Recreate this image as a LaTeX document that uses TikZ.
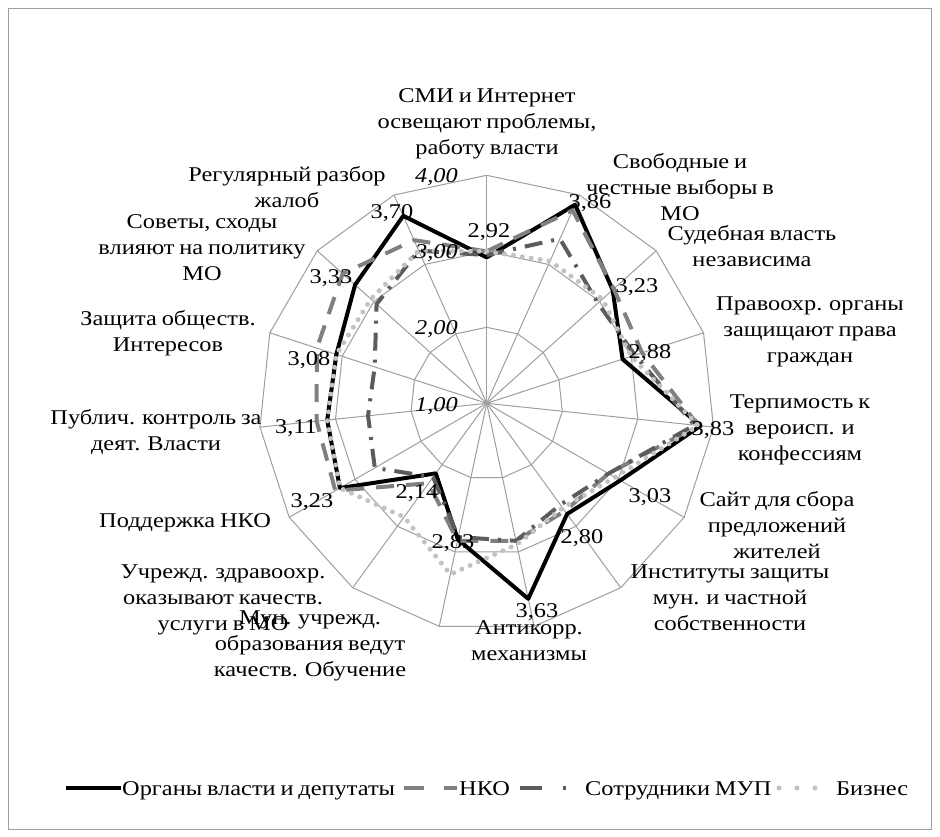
\documentclass[tikz,border=0pt]{standalone}
\usepackage{fontspec}
\setmainfont{Liberation Serif}[FakeStretch=1.16,WordSpace=0.8]
\definecolor{gridc}{gray}{0.62}
\definecolor{nkoc}{gray}{0.50}
\definecolor{mupc}{gray}{0.36}
\definecolor{bizc}{gray}{0.76}
\begin{document}
\begin{tikzpicture}[x=1pt,y=-1pt,
  font=\fontsize{21}{26}\selectfont,
  gridline/.style={draw=gridc,line width=1pt},
  cat/.style={align=center,inner sep=0pt},
  dlab/.style={inner sep=0pt},
  alab/.style={inner sep=0pt,anchor=east,font=\fontsize{21}{24}\selectfont\itshape},
  organy/.style={draw=black,line width=4pt,line join=round},
  nko/.style={draw=nkoc,line width=4pt,dash pattern=on 18pt off 12pt},
  mup/.style={draw=mupc,line width=4pt,dash pattern=on 18pt off 9pt on 3pt off 9pt},
  biz/.style={draw=bizc,line width=5pt,line cap=round,dash pattern=on 0pt off 9pt},
  legtext/.style={inner sep=0pt,anchor=base west}]
\def\cx{486.7}
\def\cy{403.3}
\useasboundingbox (0,0) rectangle (940,836);
\draw[draw=gridc,line width=1pt] (8,8) rectangle (931,829);
% grid rings
\foreach \r in {76,152,228}{
  \draw[gridline] ({\cx},{\cy-\r}) \foreach \a in {24,48,...,336}{ -- ({\cx+\r*sin(\a)},{\cy-\r*cos(\a)}) } -- cycle;
}
% spokes
\foreach \a in {0,24,...,336}{
  \draw[gridline] (\cx,\cy) -- ({\cx+228*sin(\a)},{\cy-228*cos(\a)});
}
% series coordinates
\newcommand\mkseries[2]{%
  \foreach \v [count=\i from 0] in {#2}{
    \coordinate (#1-\i) at ({\cx+(\v-1)*76*sin(24*\i)},{\cy-(\v-1)*76*cos(24*\i)});
  }}
\mkseries{o}{2.92,3.86,3.23,2.88,3.83,3.03,2.80,3.63,2.83,2.14,3.23,3.11,3.08,3.33,3.70}
\mkseries{n}{3.00,3.78,3.25,3.15,3.80,2.85,2.75,2.85,2.85,2.30,3.30,3.25,3.35,3.55,3.35}
\mkseries{m}{2.95,3.37,2.97,3.05,3.75,2.85,2.65,2.85,2.80,2.20,2.70,2.57,2.55,2.95,3.20}
\mkseries{b}{3.00,3.05,3.05,3.00,3.80,2.95,2.70,2.90,3.30,2.85,3.23,3.11,3.08,3.05,3.20}
\draw[organy] (o-0) \foreach \i in {1,...,14}{ -- (o-\i) } -- cycle;
\draw[nko] (n-0) \foreach \i in {1,...,14}{ -- (n-\i) } -- cycle;
\draw[mup] (m-0) \foreach \i in {1,...,14}{ -- (m-\i) } -- cycle;
\draw[biz] (b-0) \foreach \i in {1,...,14}{ -- (b-\i) } -- cycle;
% axis value labels
\node[alab] (a1) at (458,406) {1,00};
\node[alab] (a2) at (458,329) {2,00};
\node[alab] (a3) at (458,253) {3,00};
\node[alab] (a4) at (458,177) {4,00};
% data labels
\node[dlab] (d0) at (489,232) {2,92};
\node[dlab] (d1) at (590,203) {3,86};
\node[dlab] (d2) at (637,287) {3,23};
\node[dlab] (d3) at (650,353) {2,88};
\node[dlab] (d4) at (713,430) {3,83};
\node[dlab] (d5) at (650,497) {3,03};
\node[dlab] (d6) at (582,538) {2,80};
\node[dlab] (d7) at (537,612) {3,63};
\node[dlab] (d8) at (453,543) {2,83};
\node[dlab] (d9) at (417,493) {2,14};
\node[dlab] (d10) at (312,502) {3,23};
\node[dlab] (d11) at (296,428) {3,11};
\node[dlab] (d12) at (309,360) {3,08};
\node[dlab] (d13) at (331,278) {3,33};
\node[dlab] (d14) at (392,213) {3,70};
% category labels
\node[cat] (c0) at (487,124) {СМИ и Интернет\\освещают проблемы,\\работу власти};
\node[cat] (c1) at (680,187) {Свободные и\\честные выборы в\\МО};
\node[cat] (c2) at (752,246) {Судебная власть\\независима};
\node[cat] (c3) at (810,332) {Правоохр. органы\\защищают права\\граждан};
\node[cat] (c4) at (800,430) {Терпимость к\\вероисп. и\\конфессиям};
\node[cat] (c5) at (777,525) {Сайт для сбора\\предложений\\жителей};
\node[cat] (c6) at (730,598) {Институты защиты\\мун. и частной\\собственности};
\node[cat] (c7) at (529,641) {Антикорр.\\механизмы};
\node[cat] (c8) at (310,646) {Мун. учрежд.\\образования ведут\\качеств. Обучение};
\node[cat] (c9) at (223,600) {Учрежд. здравоохр.\\оказывают качеств.\\услуги в МО};
\node[cat] (c10) at (185,523) {Поддержка НКО};
\node[cat] (c11) at (156,432) {Публич. контроль за\\деят. Власти};
\node[cat] (c12) at (168,333) {Защита обществ.\\Интересов};
\node[cat] (c13) at (202,248) {Советы, сходы\\влияют на политику\\МО};
\node[cat] (c14) at (287,187) {Регулярный разбор\\жалоб};
% legend
\coordinate (l1a) at (66,788); \coordinate (l1b) at (121,788);
\coordinate (l2a) at (404,788); \coordinate (l2b) at (457,788);
\coordinate (l3a) at (520,788); \coordinate (l3b) at (574,788);
\coordinate (l4a) at (779,788); \coordinate (l4b) at (830,788);
\draw[organy] (l1a) -- (l1b);
\draw[nko,dash pattern=on 20pt off 20pt] (l2a) -- (l2b);
\draw[mup,dash pattern=on 22pt off 21pt on 3pt off 20pt] (l3a) -- (l3b);
\draw[biz,dash pattern=on 0pt off 18pt] (l4a) -- (l4b);
\node[legtext] (t1) at (122,795) {Органы власти и депутаты};
\node[legtext] (t2) at (459,795) {НКО};
\node[legtext] (t3) at (585,795) {Сотрудники МУП};
\node[legtext] (t4) at (836,795) {Бизнес};
\end{tikzpicture}
\end{document}
